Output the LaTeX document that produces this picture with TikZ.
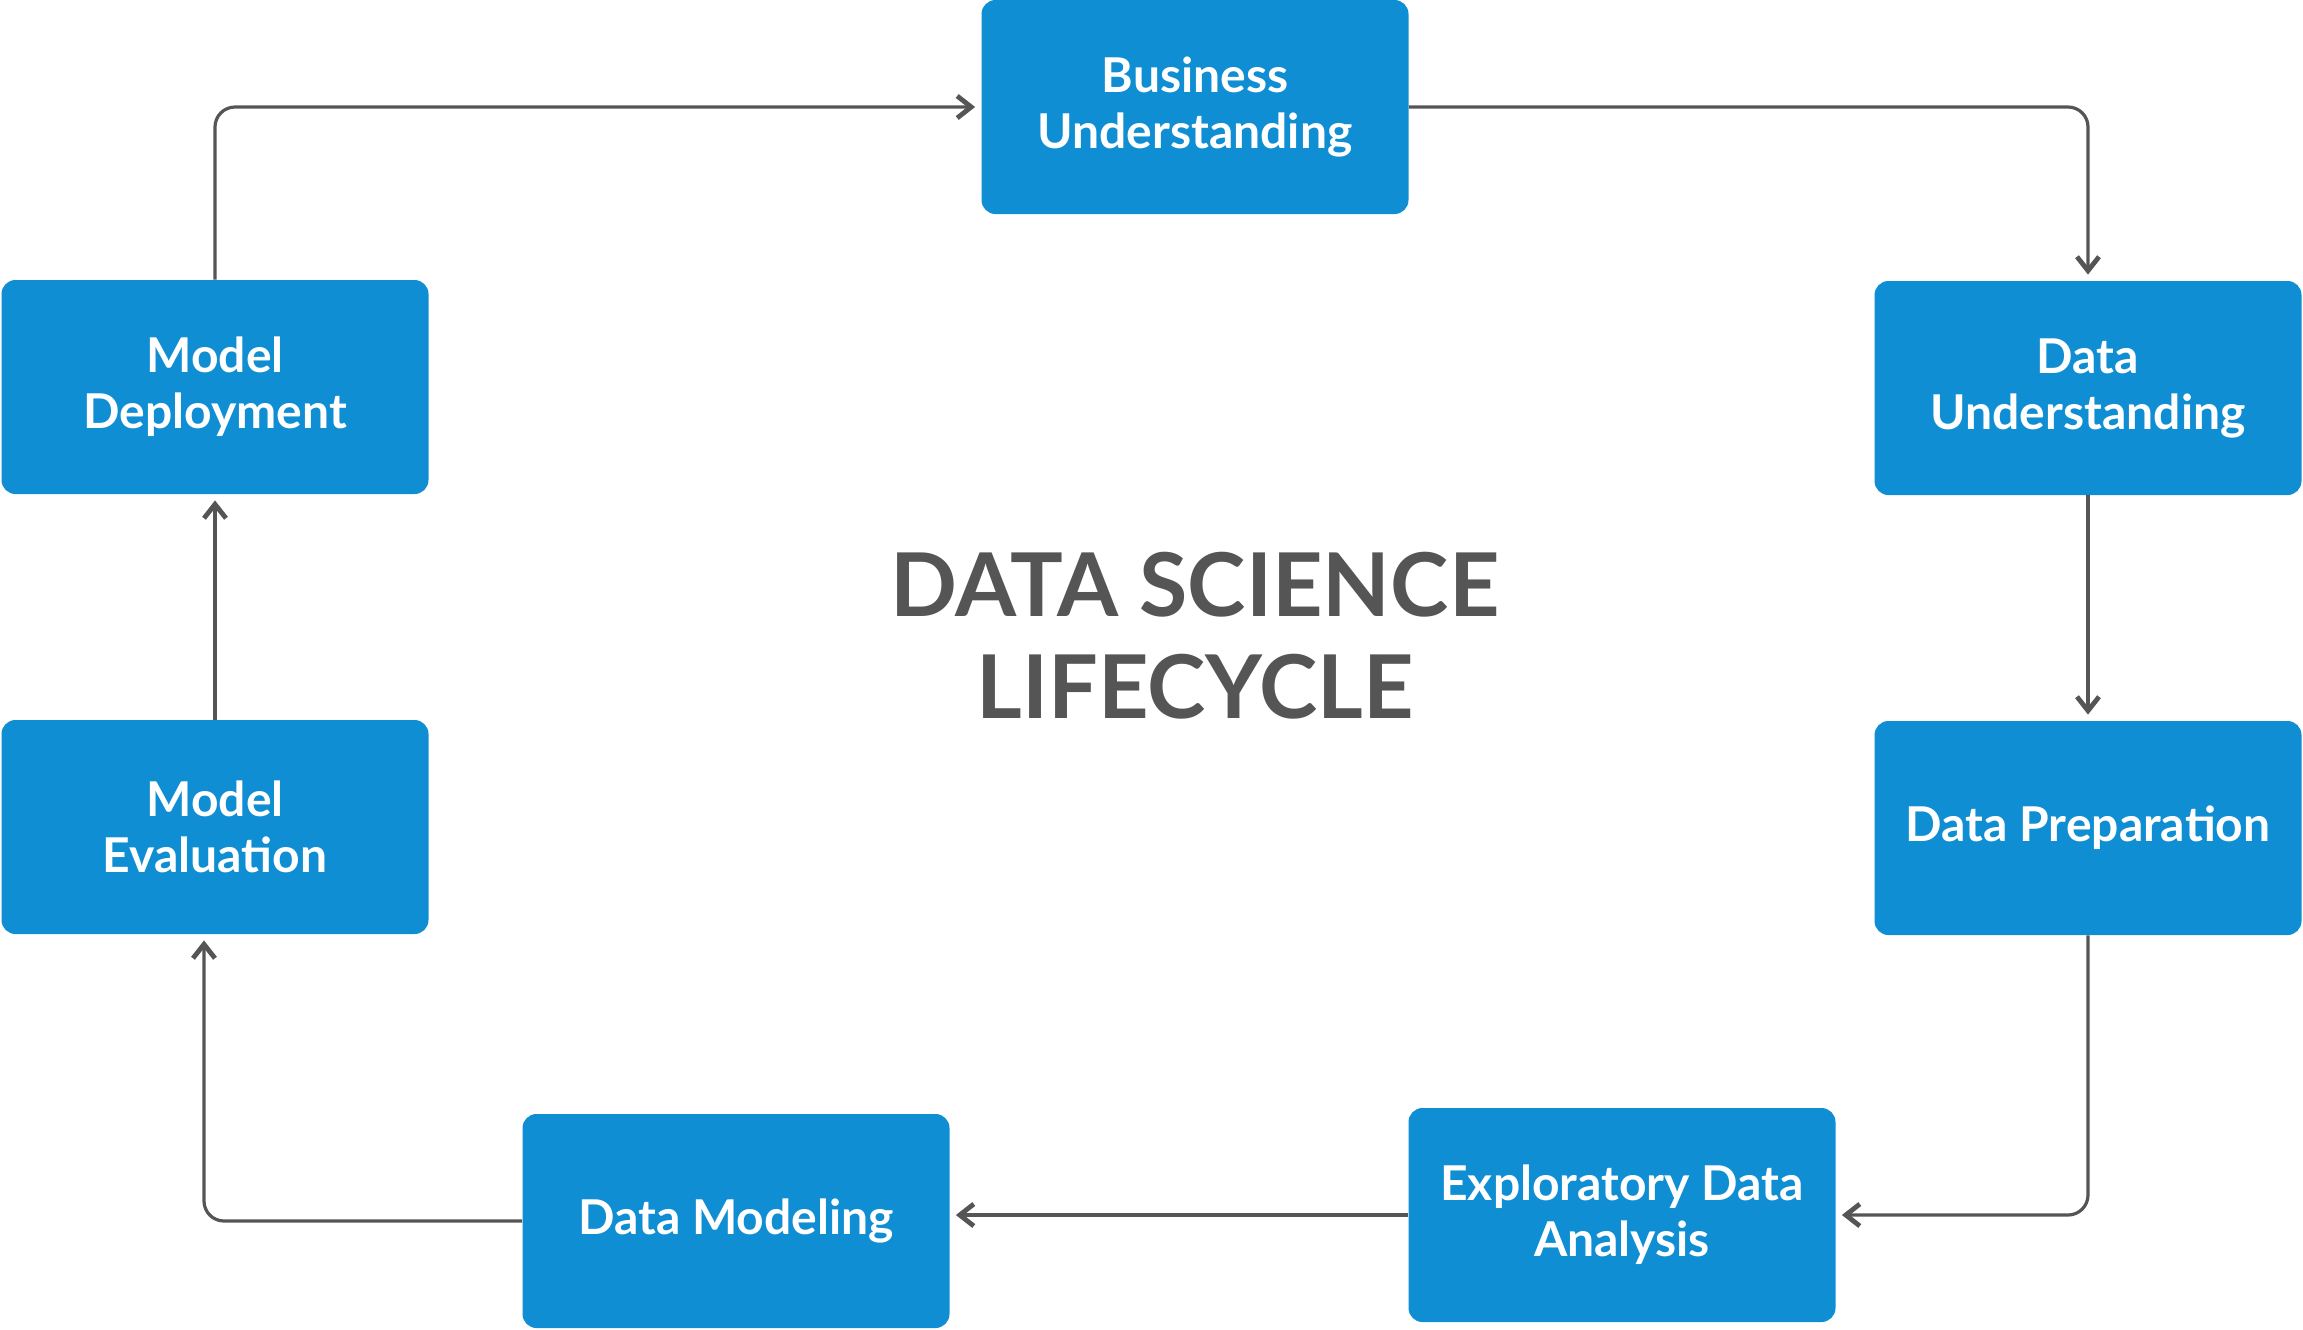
\documentclass[tikz,border=0pt]{standalone}
\usepackage{fontspec}
\setmainfont{Lato}
\usetikzlibrary{arrows.meta}
\definecolor{stepblue}{HTML}{0F8ED3}
\definecolor{linegray}{HTML}{555555}
\begin{document}
\begin{tikzpicture}[x=0.5pt, y=-0.5pt,
    stage/.style={fill=stepblue, rounded corners=7pt, minimum width=213.5pt, minimum height=107pt,
      text=white, align=center, font=\fontsize{24}{28}\selectfont\bfseries},
    flow/.style={draw=linegray, line width=1.6pt, rounded corners=10pt, shorten >=3pt,
      -{Straight Barb[length=7pt, width=11pt, line width=2.4pt]}}]
  \useasboundingbox (0,0) rectangle (2303,1329);
  % the stages
  \node[stage] (bizund) at (1195,107) {Business\\Understanding};
  \node[stage] (dataund) at (2088,388) {Data\\Understanding};
  \node[stage] (dataprep) at (2088,828) {Data Preparation};
  \node[stage] (eda) at (1622,1215) {Exploratory Data\\Analysis};
  \node[stage] (modeling) at (736,1221) {Data Modeling};
  \node[stage] (evaluation) at (215,827) {Model\\Evaluation};
  \node[stage] (deployment) at (215,387) {Model\\Deployment};
  % title
  \node[text=linegray, align=center, font=\fontsize{44}{51}\selectfont\bfseries] (title) at (1195,636) {DATA SCIENCE\\LIFECYCLE};
  % connectors
  \draw[flow] (deployment.north) |- (bizund.west);
  \draw[flow] (bizund.east) -| (dataund.north);
  \draw[flow] (dataund.south) -- (dataprep.north);
  \draw[flow] (dataprep.south) |- (eda.east);
  \draw[flow] (eda.west) -- (eda.west -| modeling.east);
  \draw[flow] (modeling.west) -| ([xshift=-5.5pt]evaluation.south);
  \draw[flow] (evaluation.north) -- (deployment.south);
\end{tikzpicture}
\end{document}
